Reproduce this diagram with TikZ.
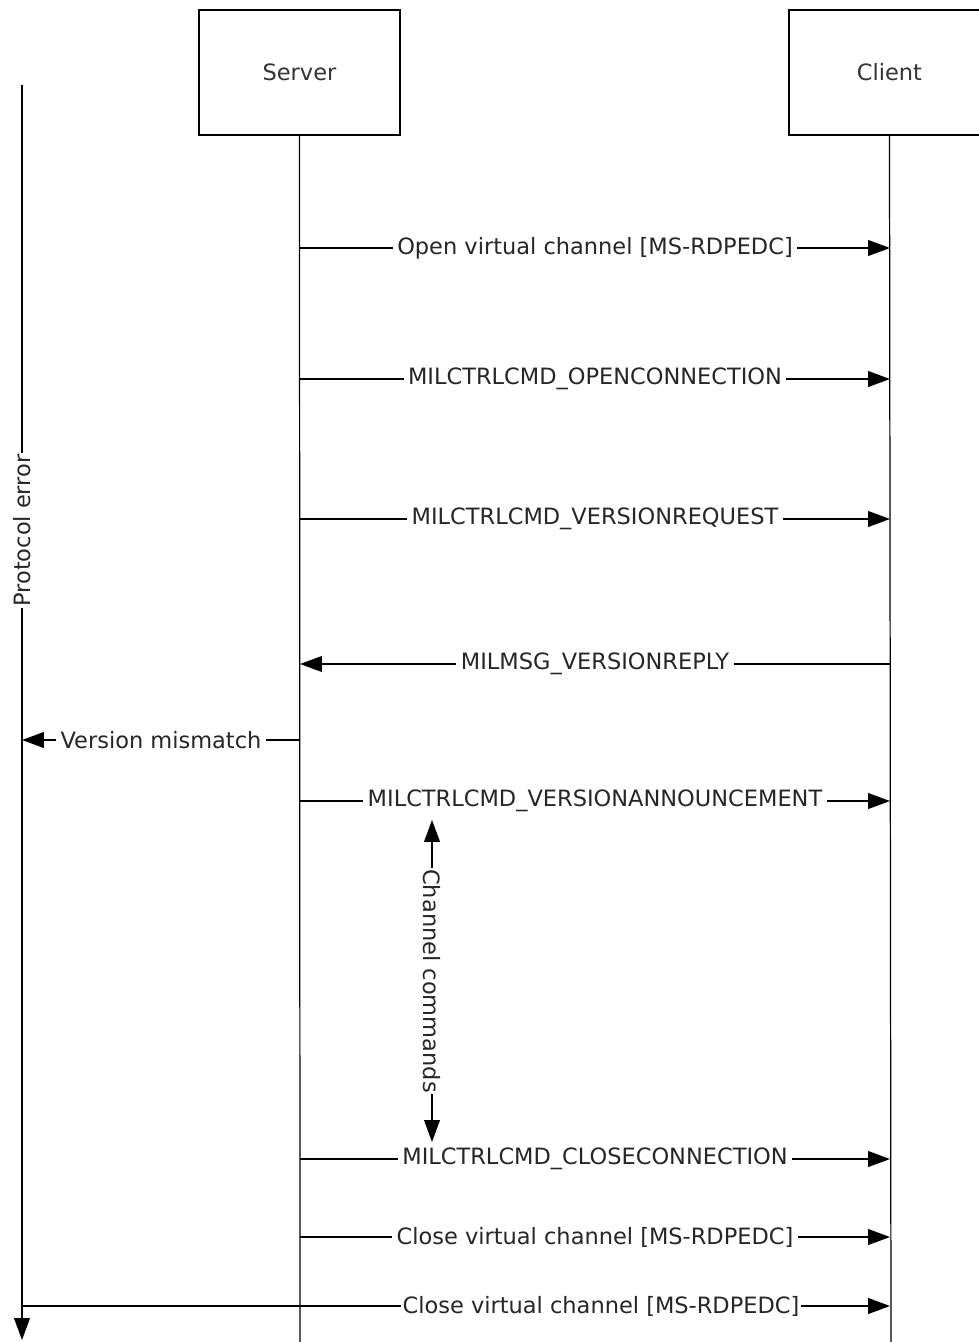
\documentclass[tikz,border=0pt]{standalone}
\usepackage{fontspec}
\setmainfont{DejaVu Sans}
\usetikzlibrary{arrows.meta}
\tikzset{
	actor/.style={draw, line width=0.8pt, minimum width=4.02cm, minimum height=2.5cm, font=\fontsize{12.8}{15}\selectfont, text=black!80},
	lifeline/.style={line width=0.7pt},
	msgline/.style={line width=0.8pt, -{Triangle[length=12.5pt,width=9pt]}},
	bothline/.style={line width=0.8pt, {Triangle[length=12.5pt,width=9pt]}-{Triangle[length=12.5pt,width=9pt]}},
	msglabel/.style={fill=white, inner sep=2.5pt, font=\fontsize{12.8}{15}\selectfont, text=black!85}
}

\begin{document}
\begin{tikzpicture}[x=0.02cm, y=-0.02cm]
		%%%%% START %%%%%
		\useasboundingbox (0, 0) rectangle (978, 1342);
		
		\node[actor] (server) at (299.5, 72.5) {Server};
		\node[actor] (client) at (889.5, 72.5) {Client};
		
		\coordinate (serverend) at (300, 1342);
		\coordinate (clientend) at (891, 1342);
		\draw[lifeline] (server.south) -- (serverend);
		\draw[lifeline] (client.south) -- (clientend);
		
		% protocol error line
		\coordinate (err0) at (22, 85);
		\coordinate (err1) at (22, 1340);
		\draw[msgline] (err0) -- (err1) node[msglabel, pos=0.355, rotate=90, inner sep=1pt] (errlabel) {Protocol error};
		
		\coordinate (s1) at (300, 248);  \coordinate (c1) at (890, 248);
		\coordinate (s2) at (300, 379);  \coordinate (c2) at (890, 379);
		\coordinate (s3) at (300, 519);  \coordinate (c3) at (890, 519);
		\coordinate (s4) at (300, 664);  \coordinate (c4) at (890, 664);
		\coordinate (s5) at (300, 740);  \coordinate (e5) at (22, 740);
		\coordinate (s6) at (300, 801);  \coordinate (c6) at (890, 801);
		\coordinate (s8) at (300, 1159); \coordinate (c8) at (890, 1159);
		\coordinate (s9) at (300, 1237); \coordinate (c9) at (890, 1237);
		\coordinate (e10) at (22, 1306); \coordinate (c10) at (890, 1306);
		
		\draw[msgline] (s1) -- (c1) node[msglabel, midway] (m1) {Open virtual channel [MS-RDPEDC]};
		\draw[msgline] (s2) -- (c2) node[msglabel, midway] (m2) {MILCTRLCMD\_OPENCONNECTION};
		\draw[msgline] (s3) -- (c3) node[msglabel, midway] (m3) {MILCTRLCMD\_VERSIONREQUEST};
		\draw[msgline] (c4) -- (s4) node[msglabel, midway] (m4) {MILMSG\_VERSIONREPLY};
		\draw[msgline] (s5) -- (e5) node[msglabel, midway] (m5) {Version mismatch};
		\draw[msgline] (s6) -- (c6) node[msglabel, midway] (m6) {MILCTRLCMD\_VERSIONANNOUNCEMENT};
		
		% channel commands
		\coordinate (ch0) at (432, 820);
		\coordinate (ch1) at (432, 1142);
		\draw[bothline] (ch0) -- (ch1) node[msglabel, midway, rotate=-90, inner sep=1pt] (m7) {Channel commands};
		
		\draw[msgline] (s8) -- (c8) node[msglabel, midway] (m8) {MILCTRLCMD\_CLOSECONNECTION};
		\draw[msgline] (s9) -- (c9) node[msglabel, midway] (m9) {Close virtual channel [MS-RDPEDC]};
		\draw[msgline] (e10) -- (c10) node[msglabel, pos=0.667, inner sep=1pt] (m10) {Close virtual channel [MS-RDPEDC]};
		
		%%%%% END %%%%%
\end{tikzpicture}
\end{document}
